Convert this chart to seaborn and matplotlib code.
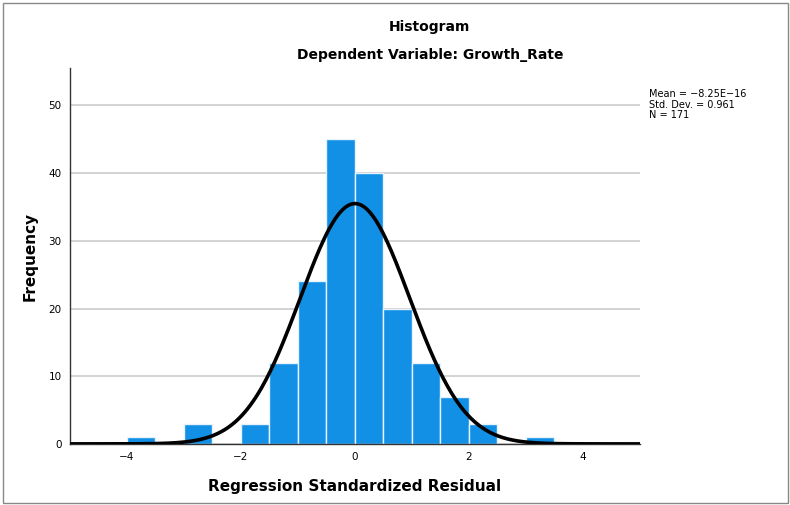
import seaborn as sns
import matplotlib.pyplot as plt
import matplotlib.patches as mpatches
import pandas as pd
import numpy as np

# Bin edges (width 0.5) and counts
bin_left = [-4.0, -3.5, -3.0, -2.5, -2.0, -1.5, -1.0, -0.5, 0.0, 0.5, 1.0, 1.5, 2.0, 2.5, 3.0]
counts = [1, 0, 3, 0, 3, 12, 24, 45, 40, 20, 12, 7, 3, 0, 1]
bin_width = 0.5

# Summary statistics shown on the chart
mean_val = -8.25e-16
std_dev = 0.961
n_obs = 171

sns.set_theme(style="white")
plt.rcParams['font.family'] = ['DejaVu Sans']
plt.rcParams['text.color'] = 'black'
plt.rcParams['axes.labelcolor'] = 'black'

df = pd.DataFrame({'resid': np.array(bin_left) + bin_width / 2, 'count': counts})

fig = plt.figure(figsize=(7.9, 5.05), dpi=100)
ax = fig.add_axes([0.0886, 0.121, 0.7215, 0.744])

ax.yaxis.grid(True, color='#d0d0d0', linewidth=1.3, zorder=0)
ax.set_axisbelow(True)

sns.histplot(data=df, x='resid', weights='count', binwidth=bin_width,
             binrange=(bin_left[0], bin_left[-1] + bin_width), ax=ax,
             color='#1290e6', alpha=1, edgecolor='#e8f2fb', linewidth=1, zorder=2)

# normal curve scaled to counts
xs = np.linspace(-5, 5, 400)
ys = n_obs * bin_width * np.exp(-0.5 * ((xs - mean_val) / std_dev) ** 2) / (std_dev * np.sqrt(2 * np.pi))
sns.lineplot(x=xs, y=ys, ax=ax, color='black', linewidth=2.6, zorder=3)

ax.set_xlim(-5, 5)
ax.set_ylim(0, 55.5)
ax.set_xticks([-4, -2, 0, 2, 4])
ax.set_xticklabels(['\u22124', '\u22122', '0', '2', '4'])
ax.set_yticks(np.arange(0, 51, 10))
ax.tick_params(axis='both', length=0, labelsize=7.5, colors='black', pad=6)

for side in ['top', 'right']:
    ax.spines[side].set_visible(False)
for side in ['bottom', 'left']:
    ax.spines[side].set_color('#333333')
    ax.spines[side].set_linewidth(1)

ax.set_xlabel('Regression Standardized Residual', fontsize=11, fontweight='bold', labelpad=12)
ax.set_ylabel('Frequency', fontsize=11, fontweight='bold', labelpad=8)

fig.text(0.544, 0.947, 'Histogram', ha='center', va='center', fontsize=10, fontweight='bold')
fig.text(0.544, 0.891, 'Dependent Variable: Growth_Rate', ha='center', va='center',
         fontsize=10, fontweight='bold')

fig.text(0.821, 0.793, 'Mean = \u22128.25E\u221216\nStd. Dev. = 0.961\nN = 171',
         ha='left', va='center', fontsize=7, linespacing=1.05)

# outer border
fig.patches.append(mpatches.Rectangle((0.004, 0.004), 0.993, 0.99, transform=fig.transFigure,
                                      fill=False, edgecolor='#888888', linewidth=1))

plt.savefig('out.png', dpi=100)
